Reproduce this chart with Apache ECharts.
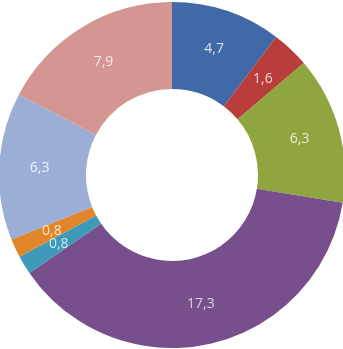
<!DOCTYPE html>
<html><head><meta charset="utf-8">
<script src="https://cdn.jsdelivr.net/npm/echarts@6/dist/echarts.min.js"></script>
<style>html,body{margin:0;padding:0;background:#fff}#c{width:343px;height:349px}</style>
</head><body><div id="c"></div>
<script>
const categories = ['A','B','C','D','E','F','G','H'];
const values = [4.7, 1.6, 6.3, 17.3, 0.8, 0.8, 6.3, 7.9];
const colors = ['#4169A8','#B83D3B','#8FA53F','#774F8D','#3F9AB9','#E2862B','#9AAED6','#D49693'];
const labelColors = ['#D6E0F2','#F4D2D1','#E6EFCF','#DCCDE9','#CDEAF4','#FDE3C4','#EEF2FA','#F8E6E5'];
const chart = echarts.init(document.getElementById('c'));
chart.setOption({
  animation: false,
  series: [{
    type: 'pie',
    center: [172, 175],
    radius: [86, 173],
    startAngle: 90,
    clockwise: true,
    avoidLabelOverlap: false,
    labelLayout: { hideOverlap: false },
    itemStyle: { borderWidth: 0 },
    label: {
      position: 'inside',
      fontFamily: 'Open Sans',
      fontSize: 14,
      formatter: p => String(p.value).replace('.', ',')
    },
    labelLine: { show: false },
    emphasis: { disabled: true },
    data: categories.map((c, i) => ({
      name: c, value: values[i],
      itemStyle: { color: colors[i] },
      label: { color: labelColors[i] }
    }))
  }]
});
</script></body></html>
